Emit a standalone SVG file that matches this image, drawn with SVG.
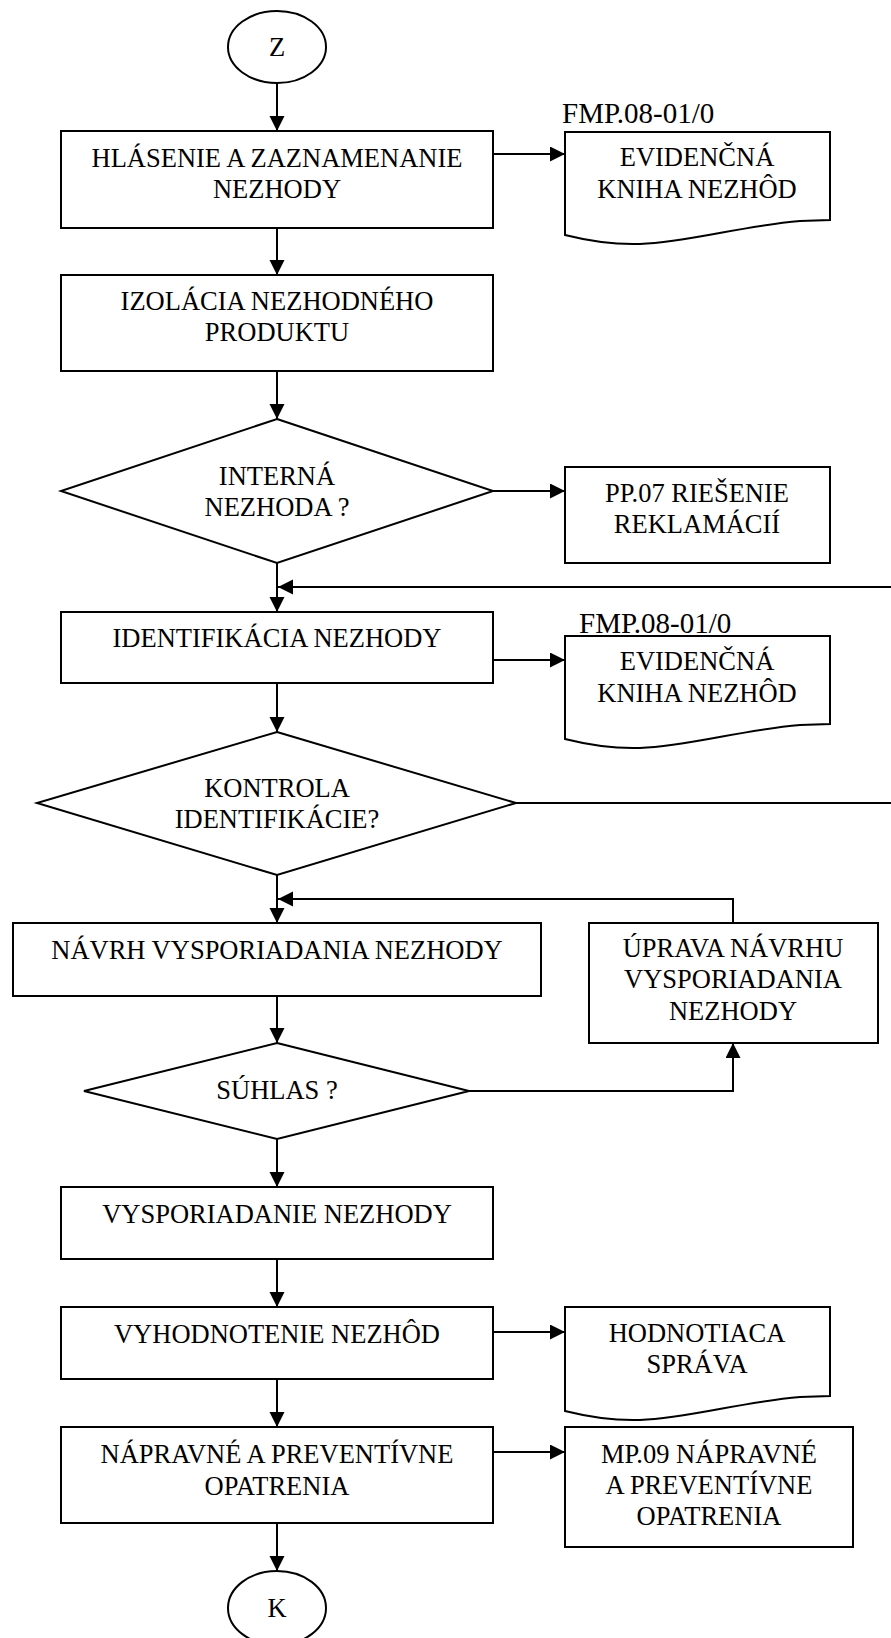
<svg xmlns="http://www.w3.org/2000/svg" width="891" height="1638" viewBox="0 0 891 1638">
<style>
.s{fill:#fff;stroke:#000;stroke-width:2}
.t{font-family:"Liberation Serif","Times New Roman",serif;font-size:26.5px;text-anchor:middle;fill:#000}
.l{font-family:"Liberation Serif","Times New Roman",serif;font-size:29px;fill:#000}
.c{fill:none;stroke:#000;stroke-width:2}
</style>
<defs>
<marker id="a" markerUnits="userSpaceOnUse" markerWidth="16" markerHeight="16" refX="15" refY="7.5" orient="auto">
<path d="M0,0 L15,7.5 L0,15 Z" fill="#000"/>
</marker>
</defs>
<rect width="891" height="1638" fill="#fff"/>
<g id="connectors">
<line class="c" x1="277" y1="83" x2="277" y2="131" marker-end="url(#a)"/>
<line class="c" x1="277" y1="228" x2="277" y2="275" marker-end="url(#a)"/>
<line class="c" x1="277" y1="371" x2="277" y2="419" marker-end="url(#a)"/>
<line class="c" x1="277" y1="563" x2="277" y2="612" marker-end="url(#a)"/>
<line class="c" x1="277" y1="683" x2="277" y2="732" marker-end="url(#a)"/>
<line class="c" x1="277" y1="875" x2="277" y2="923" marker-end="url(#a)"/>
<line class="c" x1="277" y1="996" x2="277" y2="1043" marker-end="url(#a)"/>
<line class="c" x1="277" y1="1139" x2="277" y2="1187" marker-end="url(#a)"/>
<line class="c" x1="277" y1="1259" x2="277" y2="1307" marker-end="url(#a)"/>
<line class="c" x1="277" y1="1379" x2="277" y2="1427" marker-end="url(#a)"/>
<line class="c" x1="277" y1="1523" x2="277" y2="1571" marker-end="url(#a)"/>
<line class="c" x1="493" y1="154" x2="565" y2="154" marker-end="url(#a)"/>
<line class="c" x1="493" y1="491" x2="565" y2="491" marker-end="url(#a)"/>
<line class="c" x1="493" y1="660" x2="565" y2="660" marker-end="url(#a)"/>
<line class="c" x1="493" y1="1332" x2="565" y2="1332" marker-end="url(#a)"/>
<line class="c" x1="493" y1="1452" x2="565" y2="1452" marker-end="url(#a)"/>
<path class="c" d="M516,803 H900 V587 H278" marker-end="url(#a)"/>
<path class="c" d="M469,1091 H733 V1043" marker-end="url(#a)"/>
<path class="c" d="M733,923 V899 H278" marker-end="url(#a)"/>
</g>
<g id="start">
<ellipse class="s" cx="277" cy="47" rx="49" ry="36"/>
<text class="t" x="277" y="56">Z</text>
</g>
<g id="hlasenie">
<rect class="s" x="61" y="131" width="432" height="97"/>
<text class="t" x="277" y="167">HLÁSENIE A ZAZNAMENANIE</text>
<text class="t" x="277" y="198">NEZHODY</text>
</g>
<g id="doc1">
<text class="l" x="562" y="123">FMP.08-01/0</text>
<path class="s" d="M565,132 H830 V220 L800,221 C740,226 690,242 640,244 C610,245 585,240 565,235 Z"/>
<text class="t" x="697" y="166">EVIDENČNÁ</text>
<text class="t" x="697" y="198">KNIHA NEZHÔD</text>
</g>
<g id="izolacia">
<rect class="s" x="61" y="275" width="432" height="96"/>
<text class="t" x="277" y="310">IZOLÁCIA NEZHODNÉHO</text>
<text class="t" x="277" y="341">PRODUKTU</text>
</g>
<g id="interna">
<polygon class="s" points="277,419 493,491 277,563 61,491"/>
<text class="t" x="277" y="485">INTERNÁ</text>
<text class="t" x="277" y="516">NEZHODA ?</text>
</g>
<g id="pp07">
<rect class="s" x="565" y="467" width="265" height="96"/>
<text class="t" x="697" y="502">PP.07 RIEŠENIE</text>
<text class="t" x="697" y="533">REKLAMÁCIÍ</text>
</g>
<g id="identifikacia">
<rect class="s" x="61" y="612" width="432" height="71"/>
<text class="t" x="277" y="647">IDENTIFIKÁCIA NEZHODY</text>
</g>
<g id="doc2">
<path class="s" d="M565,636 H830 V724 L800,725 C740,730 690,746 640,748 C610,749 585,744 565,739 Z"/>
<text class="l" x="579" y="633">FMP.08-01/0</text>
<text class="t" x="697" y="670">EVIDENČNÁ</text>
<text class="t" x="697" y="702">KNIHA NEZHÔD</text>
</g>
<g id="kontrola">
<polygon class="s" points="277,732 516,803 277,875 37,803"/>
<text class="t" x="277" y="797">KONTROLA</text>
<text class="t" x="277" y="828">IDENTIFIKÁCIE?</text>
</g>
<g id="navrh">
<rect class="s" x="13" y="923" width="528" height="73"/>
<text class="t" x="277" y="959">NÁVRH VYSPORIADANIA NEZHODY</text>
</g>
<g id="uprava">
<rect class="s" x="589" y="923" width="289" height="120"/>
<text class="t" x="733" y="957">ÚPRAVA NÁVRHU</text>
<text class="t" x="733" y="988">VYSPORIADANIA</text>
<text class="t" x="733" y="1020">NEZHODY</text>
</g>
<g id="suhlas">
<polygon class="s" points="277,1043 469,1091 277,1139 84,1091"/>
<text class="t" x="277" y="1099">SÚHLAS ?</text>
</g>
<g id="vysporiadanie">
<rect class="s" x="61" y="1187" width="432" height="72"/>
<text class="t" x="277" y="1223">VYSPORIADANIE NEZHODY</text>
</g>
<g id="vyhodnotenie">
<rect class="s" x="61" y="1307" width="432" height="72"/>
<text class="t" x="277" y="1343">VYHODNOTENIE NEZHÔD</text>
</g>
<g id="doc3">
<path class="s" d="M565,1307 H830 V1396 L800,1397 C740,1402 690,1418 640,1420 C610,1421 585,1416 565,1411 Z"/>
<text class="t" x="697" y="1342">HODNOTIACA</text>
<text class="t" x="697" y="1373">SPRÁVA</text>
</g>
<g id="napravne">
<rect class="s" x="61" y="1427" width="432" height="96"/>
<text class="t" x="277" y="1463">NÁPRAVNÉ A PREVENTÍVNE</text>
<text class="t" x="277" y="1495">OPATRENIA</text>
</g>
<g id="mp09">
<rect class="s" x="565" y="1427" width="288" height="120"/>
<text class="t" x="709" y="1463">MP.09 NÁPRAVNÉ</text>
<text class="t" x="709" y="1494">A PREVENTÍVNE</text>
<text class="t" x="709" y="1525">OPATRENIA</text>
</g>
<g id="end">
<ellipse class="s" cx="277" cy="1608" rx="49" ry="37"/>
<text class="t" x="277" y="1617">K</text>
</g>
</svg>
